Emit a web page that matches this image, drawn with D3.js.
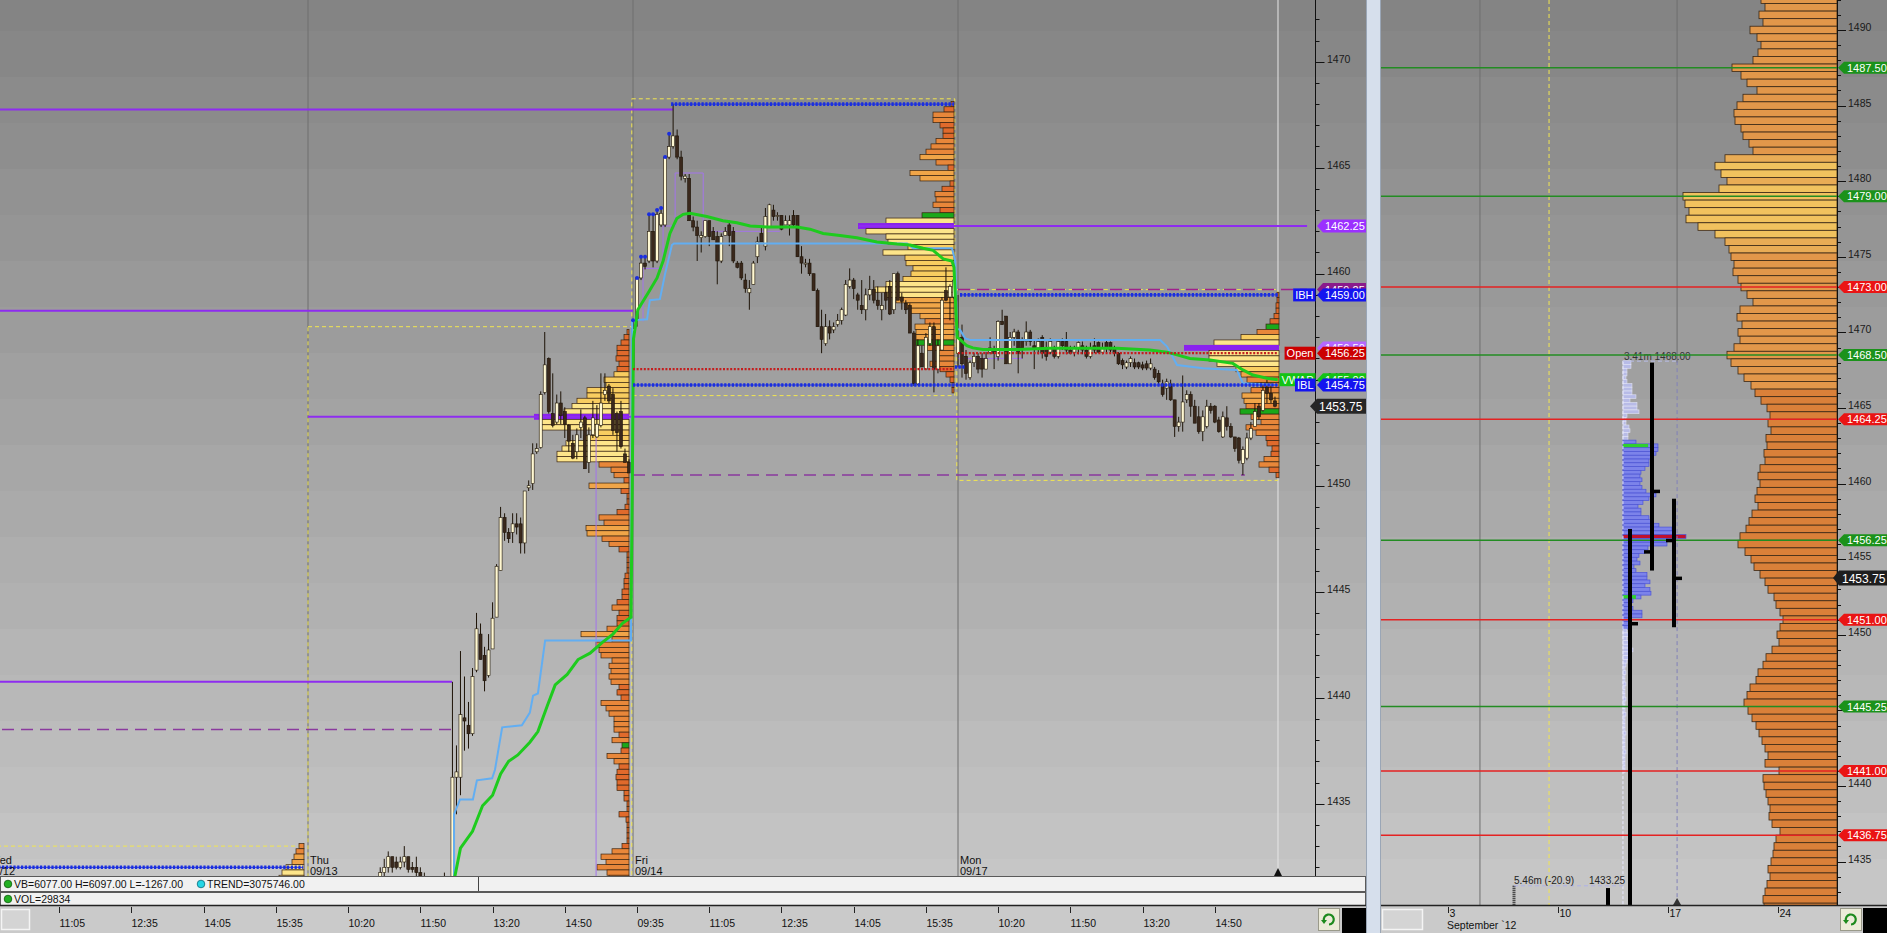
<!DOCTYPE html>
<html><head><meta charset="utf-8">
<script src="https://cdn.jsdelivr.net/npm/d3@7"></script>
<style>
html,body{margin:0;padding:0;background:#d6dfec;overflow:hidden}
svg{display:block;font-family:"Liberation Sans",Arial,sans-serif}
</style></head><body>
<svg id="chart" width="1887" height="933"></svg>
<script>
// ================= DATA =================
const sessionDays  = ["Wed","Thu","Fri","Mon"];
const sessionDates = ["09/12","09/13","09/14","09/17"];
const barsPerSession = 81;
const timeTickBars   = [19,37,55,73,91,109,127,145,163,181,199,217,235,253,271,289,307];
const timeTickLabels = ["11:05","12:35","14:05","15:35","10:20","11:50","13:20","14:50","09:35","11:05","12:35","14:05","15:35","10:20","11:50","13:20","14:50"];
const lastBar = 322.75;

const thuStart = 16;
const thuBars = [
[1430.5,1431.25,1430.0,1431.0],[1431.0,1431.5,1430.5,1431.25],[1431.25,1432.0,1431.0,1431.75],[1431.75,1432.4,1431.25,1432.0],
[1432.0,1432.75,1431.75,1432.5],[1432.5,1432.5,1431.75,1432.0],[1432.25,1432.5,1431.9,1432.0],[1432.0,1432.5,1431.9,1432.25],
[1432.25,1433.0,1432.0,1432.5],[1432.5,1432.5,1431.75,1431.9],[1432.0,1432.25,1431.75,1431.9],[1432.0,1432.5,1431.5,1431.75],
[1431.75,1432.0,1431.25,1431.5],[1431.5,1431.75,1430.75,1431.0],[1431.0,1431.25,1430.5,1430.75],[1430.75,1431.0,1430.25,1430.5],
[1430.5,1430.75,1430.0,1430.5],[1430.5,1431.0,1430.25,1430.75],[1430.75,1431.75,1430.5,1431.0],[1431.0,1431.5,1430.5,1431.0],
[1431.0,1440.75,1429.5,1436.25],[1436.25,1437.75,1434.5,1436.5],[1436.25,1442.2,1435.4,1439.2],[1439.05,1441.0,1437.5,1438.9],
[1438.7,1439.8,1437.6,1438.3],[1438.3,1441.4,1438.2,1441.0],[1441.3,1444.0,1441.2,1443.25],[1443.0,1443.5,1441.8,1441.8],
[1442.0,1442.4,1440.3,1440.8],[1441.05,1443.0,1440.95,1442.25],[1442.3,1444.5,1442.3,1443.75],[1443.8,1446.3,1443.8,1446.2],
[1446.0,1449.0,1446.0,1448.5],[1448.5,1448.7,1447.4,1447.8],[1447.8,1448.0,1447.3,1447.5],[1447.8,1448.7,1447.3,1448.2],
[1448.2,1448.7,1447.7,1448.05],[1448.2,1448.5,1446.8,1447.3],[1447.3,1449.75,1446.8,1449.75],[1449.9,1450.25,1449.75,1450.0],
[1450.1,1452.0,1449.8,1451.5],[1451.6,1452.0,1451.5,1451.75],[1451.8,1454.45,1451.75,1454.3],[1454.4,1457.25,1454.3,1455.7],
[1456.0,1456.05,1453.4,1453.5],[1453.4,1455.3,1452.75,1452.85],[1453.0,1454.3,1452.9,1453.9],[1453.9,1454.45,1452.9,1453.3],
[1453.5,1453.7,1452.25,1452.9],[1452.85,1452.9,1451.6,1452.1],[1452.0,1452.4,1451.25,1451.3],[1451.6,1452.7,1451.25,1452.4],
[1452.75,1453.6,1452.25,1453.0],[1453.2,1453.3,1450.8,1450.8],[1451.1,1452.75,1450.6,1452.4],[1452.4,1454.0,1452.25,1453.2],
[1452.3,1453.8,1452.25,1452.9],[1452.85,1455.3,1452.75,1453.9],[1454.3,1455.3,1454.0,1454.5],[1454.7,1454.8,1453.9,1454.0],
[1454.3,1454.6,1452.4,1452.6],[1453.4,1453.5,1451.6,1452.5],[1453.5,1454.0,1451.75,1451.85],[1451.5,1451.75,1451.1,1451.1],
[1451.1,1451.25,1450.6,1450.6]];

const friBars = [
[1455.5,1457.8,1455.4,1457.4],[1457.8,1459.8,1457.5,1459.8],[1459.8,1460.8,1459.7,1460.5],[1460.5,1460.8,1460.2,1460.35],
[1460.6,1462.8,1460.5,1462.0],[1462.0,1462.8,1460.3,1460.6],[1460.6,1463.0,1460.5,1462.8],[1462.3,1463.1,1462.2,1462.85],
[1462.3,1465.5,1462.2,1465.5],[1465.5,1466.6,1465.4,1466.0],[1466.0,1468.0,1465.9,1466.5],[1466.5,1466.8,1465.4,1465.5],
[1465.5,1465.8,1464.4,1464.6],[1464.5,1464.7,1464.3,1464.6],[1464.5,1464.7,1462.5,1462.5],[1462.5,1462.7,1462.0,1462.2],
[1462.2,1462.5,1460.6,1461.8],[1461.7,1462.0,1461.0,1461.8],[1461.75,1462.5,1461.7,1462.5],[1462.5,1462.5,1461.3,1461.75],
[1462.0,1462.2,1461.6,1461.6],[1461.75,1462.0,1459.5,1460.6],[1460.6,1461.9,1460.5,1461.75],[1461.8,1462.2,1461.8,1462.0],
[1462.3,1462.5,1461.3,1461.8],[1462.0,1462.2,1460.5,1460.6],[1460.5,1460.6,1460.25,1460.3],[1460.5,1460.6,1459.7,1459.8],
[1459.7,1460.0,1459.1,1459.3],[1459.1,1459.7,1458.3,1459.3],[1459.5,1460.6,1459.5,1460.5],[1460.8,1461.75,1460.5,1461.5],
[1461.9,1462.2,1461.5,1461.5],[1461.3,1463.1,1461.1,1462.7],[1462.2,1463.3,1462.2,1463.25],[1463.0,1463.25,1462.5,1462.7],
[1462.7,1462.9,1462.5,1462.75],[1462.75,1462.75,1462.05,1462.1],[1462.3,1462.75,1462.3,1462.5],[1462.3,1462.75,1461.8,1462.5],
[1462.75,1463.0,1462.2,1462.3],[1462.75,1462.75,1460.8,1460.8],[1460.8,1461.3,1460.0,1460.5],[1460.45,1460.7,1460.3,1460.5],
[1460.5,1460.7,1459.9,1460.0],[1460.0,1460.0,1459.2,1459.2],[1459.2,1459.3,1457.5,1457.5],[1457.5,1458.3,1456.25,1456.9],
[1456.7,1458.1,1456.6,1457.5],[1457.5,1457.8,1456.9,1457.2],[1457.35,1457.7,1457.2,1457.5],[1457.6,1458.1,1457.5,1457.8],
[1457.8,1458.4,1457.6,1458.3],[1458.05,1459.7,1458.0,1459.5],[1459.4,1460.25,1459.3,1459.7],[1459.7,1459.8,1458.8,1459.3],
[1459.0,1459.1,1458.3,1458.75],[1458.5,1459.7,1458.1,1458.3],[1458.3,1459.3,1457.8,1459.0],[1459.0,1459.9,1458.75,1459.25],
[1459.25,1459.7,1458.6,1458.75],[1458.75,1459.4,1458.3,1458.5],[1458.3,1459.1,1457.8,1458.5],[1459.1,1459.4,1458.3,1458.75],
[1459.4,1459.7,1458.05,1458.1],[1458.3,1460.0,1458.1,1460.0],[1460.0,1460.1,1458.75,1458.75],[1458.9,1459.1,1458.3,1458.7],
[1458.6,1458.75,1458.1,1458.3],[1458.5,1458.6,1457.2,1457.2],[1457.2,1457.3,1454.7,1454.8],[1454.8,1456.9,1454.75,1456.6],
[1456.25,1456.6,1455.6,1455.6],[1455.5,1457.2,1455.5,1457.0],[1456.7,1457.7,1456.6,1457.5],[1457.5,1457.7,1454.4,1455.5],
[1455.5,1456.9,1455.3,1456.6],[1456.4,1458.9,1456.4,1458.75],[1459.2,1460.3,1458.7,1458.75],[1458.9,1459.5,1457.8,1459.4],
[1458.9,1460.0,1458.8,1459.7]];

const monBars = [
[1456.25,1459.0,1455.6,1457.0],[1457.0,1457.6,1455.1,1455.75],[1456.1,1456.4,1455.0,1455.3],[1455.1,1455.9,1455.0,1455.8],
[1455.8,1456.25,1455.6,1456.1],[1456.1,1456.25,1455.3,1455.5],[1456.0,1456.25,1455.1,1455.5],[1455.5,1456.3,1455.5,1456.0],
[1456.3,1457.0,1456.2,1456.5],[1456.4,1456.6,1455.5,1456.25],[1456.1,1457.8,1455.9,1457.75],[1457.75,1458.3,1457.6,1457.6],
[1458.0,1458.0,1455.75,1455.75],[1455.75,1457.25,1455.75,1457.0],[1457.0,1457.4,1456.6,1457.25],[1457.25,1457.35,1455.3,1456.25],
[1456.9,1457.0,1456.0,1456.5],[1456.8,1457.75,1456.6,1457.25],[1457.25,1457.35,1456.6,1456.8],[1456.6,1456.9,1455.5,1456.5],
[1456.5,1456.95,1456.2,1456.8],[1457.0,1457.1,1456.0,1456.25],[1456.5,1456.8,1455.9,1456.1],[1456.3,1456.95,1456.2,1456.8],
[1456.5,1456.6,1456.0,1456.1],[1456.1,1456.9,1456.0,1456.8],[1456.8,1456.95,1456.4,1456.6],[1456.8,1457.25,1456.2,1456.4],
[1456.4,1456.6,1456.2,1456.25],[1456.3,1456.6,1456.1,1456.5],[1456.5,1456.8,1456.2,1456.75],[1456.6,1456.8,1456.2,1456.4],
[1456.4,1456.6,1456.0,1456.1],[1456.1,1456.75,1456.0,1456.5],[1456.6,1456.95,1456.25,1456.4],[1456.75,1456.8,1456.25,1456.3],
[1456.3,1456.75,1456.2,1456.5],[1456.75,1456.9,1456.3,1456.5],[1456.75,1456.8,1456.25,1456.4],[1456.5,1456.6,1456.1,1456.25],
[1456.25,1456.3,1455.7,1455.75],[1455.9,1456.0,1455.5,1455.7],[1455.6,1455.9,1455.5,1455.8],[1455.8,1456.1,1455.6,1456.0],
[1455.8,1456.0,1455.5,1455.6],[1455.8,1455.85,1455.5,1455.6],[1455.7,1455.85,1455.45,1455.55],[1455.75,1455.9,1455.45,1455.55],
[1455.55,1456.0,1455.45,1455.75],[1455.5,1455.6,1455.0,1455.1],[1455.3,1455.45,1454.75,1454.9],[1454.8,1455.0,1454.2,1454.3],
[1454.6,1455.05,1454.05,1454.9],[1454.8,1455.0,1454.0,1454.05],[1454.05,1454.05,1452.3,1452.8],[1452.8,1453.25,1452.55,1453.0],
[1453.0,1455.2,1452.55,1453.95],[1454.05,1454.5,1453.9,1454.3],[1454.3,1454.45,1453.25,1453.75],[1453.75,1454.05,1452.95,1452.95],
[1453.25,1453.75,1452.45,1452.55],[1452.55,1453.55,1452.1,1453.25],[1452.8,1454.05,1452.7,1453.75],[1453.75,1453.9,1453.4,1453.55],
[1453.75,1453.8,1452.95,1453.0],[1453.1,1453.25,1452.5,1452.55],[1452.3,1453.5,1452.25,1453.25],[1453.2,1453.75,1452.6,1452.8],
[1452.8,1452.95,1452.25,1452.3],[1452.3,1452.3,1451.6,1451.75],[1452.25,1452.3,1451.05,1451.2],[1451.05,1451.85,1450.5,1451.7],
[1451.3,1452.5,1451.2,1452.25],[1452.25,1453.0,1452.15,1452.7],[1452.8,1453.9,1452.8,1453.5],[1453.75,1453.9,1453.1,1453.25],
[1453.55,1454.75,1453.5,1454.5],[1454.65,1455.0,1453.9,1454.35],[1454.35,1454.85,1453.9,1454.05],[1454.0,1454.2,1453.7,1453.75]];

const friNewHighs = [[0,1457.8],[1,1459.8],[2,1460.8],[3,1460.8],[4,1462.8],[5,1462.8],[6,1463.0],[7,1463.1],[8,1465.5],[9,1466.6]];

const vwapLine = [[117,1431.0],[119,1432.9],[122,1433.7],[124.5,1434.9],[127,1435.4],[129,1436.4],[131,1437.0],[133.3,1437.3],[136.3,1437.9],[138.3,1438.4],[140.6,1439.6],[142.6,1440.6],[145.6,1441.1],[148.3,1441.8],[151.3,1442.1],[154.3,1442.6],[157,1443.0],[159.3,1443.5],[161.5,1443.8],[161.8,1449.5],[162.1,1456.9],[163.2,1458.3],[165.8,1459.1],[168,1459.8],[169.5,1460.6],[171.2,1461.9],[172.9,1462.6],[174.5,1462.8],[176.2,1462.85],[180.4,1462.7],[184.4,1462.5],[187.9,1462.4],[191.2,1462.25],[195.4,1462.2],[199.4,1462.2],[202.9,1462.2],[206.1,1462.1],[209.4,1461.9],[213.6,1461.8],[217.8,1461.7],[222.8,1461.5],[227.8,1461.4],[231,1461.35],[234.3,1461.2],[236.8,1461.1],[239.3,1460.7],[241.5,1460.6],[242,1460.3],[242.8,1457.0],[243.5,1456.9],[245.2,1456.6],[246.7,1456.5],[249.2,1456.43],[253.5,1456.43],[257.7,1456.43],[265.9,1456.48],[274.2,1456.48],[282.6,1456.48],[290.8,1456.4],[295.1,1456.3],[297.6,1456.17],[300.8,1456.0],[305.8,1455.93],[311.5,1455.77],[314,1455.46],[316.5,1455.22],[320,1455.07],[322.7,1455.0]];
const blueLine = [[117.4,1431.0],[117.4,1434.5],[118.9,1435.2],[122.1,1435.2],[123.1,1436.1],[126.9,1436.2],[127.6,1436.6],[129.4,1438.6],[134.3,1438.7],[136.3,1439.3],[137.1,1440.1],[138.3,1440.2],[140.1,1442.7],[161.5,1442.7],[161.8,1457.8],[165.5,1457.85],[166.2,1458.75],[168.7,1458.8],[170,1460.0],[171.7,1461.35],[172.2,1461.43],[230.3,1461.43],[231.8,1461.2],[241.5,1461.2],[242.3,1460.6],[242.8,1457.4],[243.5,1457.35],[244.8,1456.95],[246,1456.87],[293.4,1456.87],[295.1,1456.56],[297.6,1455.69],[304.1,1455.54],[312.5,1455.46],[314,1454.83],[322.7,1454.75]];

const wedProfile = {top:1433.0, endBar:81, poc:null, vaHigh:1432.0, vaLow:1431.0, green:[],
  vols:[5,8,10,12,18,22,25]};
const thuProfile = {top:1457.25, endBar:162, poc:1453.25, vaHigh:1455.25, vaLow:1451.25, green:[1437.75],
  vols:[2,5,8,12,12,13,10,12,15,25,23,42,42,52,57,65,95,88,88,37,45,63,67,72,72,30,18,15,5,40,8,2,2,4,12,30,25,43,42,27,20,10,2,2,2,2,4,5,5,7,7,12,17,10,12,12,22,48,17,33,30,28,17,20,18,20,18,10,12,8,28,23,20,15,15,15,10,17,7,8,22,15,10,12,13,12,12,5,5,2,2,10,3,2,2,2,2,7,17,28,23,32,22,20]};
const friProfile = {top:1468.0, endBar:243, poc:1462.25, vaHigh:1462.5, vaLow:1459.0, green:[1462.75,1456.75],
  vols:[3,10,21,21,14,11,11,18,23,28,34,18,6,44,34,4,12,19,18,21,14,32,68,96,88,68,66,46,71,49,48,41,43,51,68,79,68,58,48,44,34,29,39,38,38,38,28,16,16,24,14,8,4,2,2]};
const monProfile = {top:1459.0, endBar:324, poc:1456.5, vaHigh:1457.0, vaLow:1455.5, green:[1457.5,1453.5],
  vols:[2,2,3,3,5,9,13,22,38,65,95,70,70,62,43,38,32,18,28,37,35,33,39,28,18,33,23,13,12,7,8,15,20,10,3]};

const purpleLevels = [[1467.75,0,172],[1462.25,218.3,330],[1458.25,0,162],[1453.25,81,296.8],[1440.75,0,116.9]];
const purpleDashLevels = [[1438.5,0,116.9],[1450.5,162,314.5]];
const magentaDashLevels = [[1459.25,243,330]];
const blueDotLevels = [[1468.0,171.5,242],[1454.75,162,322.7],[1459.0,243.5,322.7],[1432.0,0,79.8],[1455.6,242.2,244.6]];
const redDotLevels = [[1455.5,162,242],[1456.25,243,322.7]];
const sessionBoxes = [[0,79.8,1433.0,1420],[81,161.7,1457.5,1420],[161.7,242.2,1468.25,1454.25],[242.7,322.7,1459.25,1450.25]];
const devLines = [
  [[152.8,1452.25],[152.8,1428]],
  [[164.5,1457.75],[164.5,1460.25],[169.5,1460.25],[169.5,1462.25],[172.5,1462.25],[172.5,1464.75],[179.5,1464.75],[179.5,1462.0],[198.6,1462.0]],
  [[243,1456.0],[259,1456.0]]];

const leftTags = [
  {p:1462.25,label:"1462.25",color:"#9b30ff"},
  {p:1459.25,label:"1459.25",color:"#8b1a8b"},
  {p:1459.00,label:"1459.00",color:"#1414f0",pre:"IBH"},
  {p:1456.50,label:"1456.50",color:"#b468ff"},
  {p:1456.25,label:"1456.25",color:"#cc0000",pre:"Open"},
  {p:1455.00,label:"1455.00",color:"#14c414",pre:"VWAP"},
  {p:1454.75,label:"1454.75",color:"#1414f0",pre:"IBL"},
  {p:1453.75,label:"1453.75",color:"#262626",current:true}];

const tradingDays = ["2012-08-27","2012-08-28","2012-08-29","2012-08-30","2012-08-31","2012-09-03","2012-09-04","2012-09-05","2012-09-06","2012-09-07","2012-09-10","2012-09-11","2012-09-12","2012-09-13","2012-09-14","2012-09-17","2012-09-18","2012-09-19","2012-09-20","2012-09-21","2012-09-24","2012-09-25","2012-09-26","2012-09-27","2012-09-28"];
const dayTickDates  = ["2012-09-03","2012-09-10","2012-09-17","2012-09-24"];
const dayTickLabels = ["3","10","17","24"];
const monthLabel = "September `12";
const dailyDates = ["2012-09-12","2012-09-13","2012-09-14","2012-09-17"];
const dailyOHLC  = [[1430.5,1433.25,1426.0,1430.0],[1430.0,1457.0,1424.5,1450.75],[1455.5,1468.0,1454.25,1459.5],[1456.25,1459.0,1450.5,1453.75]];
const compTop = 1492.0;
const compVols = [76,72,78,74,87,80,76,79,84,105,96,90,80,94,100,103,102,96,94,88,84,112,122,116,110,118,154,152,148,151,139,122,112,108,106,103,104,99,96,90,84,97,100,95,99,97,103,110,106,99,93,86,82,76,70,67,69,66,71,70,73,72,77,79,77,80,82,79,85,88,91,97,99,92,86,83,77,72,69,63,61,57,54,57,60,58,65,71,74,79,81,87,90,93,89,85,81,78,75,72,69,72,58,74,73,71,69,67,68,65,57,61,63,64,66,69,67,70,72,74,73];
const compVaHigh = 1481.5, compVaLow = 1475.5;
const weekProfTop = 1468.0, weekPoc = 1456.5, weekVaHigh = 1462.75, weekVaLow = 1450.5, weekGreen = [1462.5,1452.5];
const weekVols = [8,8,4,4,3,4,9,9,9,13,7,14,14,16,4,3,3,6,7,5,5,13,35,35,33,28,26,26,22,18,17,19,17,19,23,33,26,20,15,18,18,26,28,36,49,50,63,44,44,25,22,16,14,17,11,13,24,24,27,22,27,28,18,10,8,10,19,19,8,7,6,4,8,4,6,8,10,6,8,4,3,2,3,2,2,3,2,2,2,3,2,2,2,3,2,2,2,2,3,2,2,2,2,3,2,2,2,2,2];
const greenLevels = [1487.50,1479.00,1468.50,1456.25,1445.25];
const redLevels   = [1473.00,1464.25,1451.00,1441.00,1436.75];
const lastPrice = 1453.75;
const statusRow1a = "VB=6077.00 H=6097.00 L=-1267.00";
const statusRow1b = "TREND=3075746.00";
const statusRow2  = "VOL=29834";

// ================= SCALES =================
const svg = d3.select("#chart");
const LX1 = 1315.5, LY1 = 876, RX0 = 1381, RX1 = 1837, RY1 = 905;
const xL = d3.scaleLinear().domain([0, 4*barsPerSession]).range([-17, 1283]);
const yL = d3.scaleLinear().domain([1470, 1431]).range([61.7, 61.7 + 39*21.2]);
const yR = d3.scaleLinear().domain([1490, 1430]).range([30, 30 + 60*15.12]);
const xR = d3.scaleBand().domain(tradingDays).range([1333, 1883]).padding(0);
const xRc = d => xR(d) + xR.bandwidth()/2;
const profW = d3.scaleLinear().domain([0, 100]).range([0, 100]);
const line = (xs, ys) => d3.line().x(d => xs(d[0])).y(d => ys(d[1]));

const defs = svg.append("defs");
defs.append("clipPath").attr("id","clipL").append("rect").attr("x",0).attr("y",0).attr("width",LX1).attr("height",LY1);
defs.append("clipPath").attr("id","clipR").append("rect").attr("x",RX0).attr("y",0).attr("width",RX1-RX0).attr("height",RY1);

// ================= BACKGROUND =================
svg.append("rect").attr("width",1887).attr("height",933).attr("fill","#d6dfec");
const bandCol = d3.interpolateRgb("#838383","#c8c8c8");
function bands(x0, x1, y1){
  for (let yy = -15; yy < y1; yy += 46){
    const a = Math.max(0, yy), b = Math.min(y1, yy + 46);
    svg.append("rect").attr("x",x0).attr("y",a).attr("width",x1-x0).attr("height",b-a)
      .attr("fill", bandCol(Math.min(1, (yy+23)/905)));
  }
}
bands(0, 1366, LY1);
bands(1380, 1887, RY1);
svg.append("line").attr("x1",1366.5).attr("x2",1366.5).attr("y1",0).attr("y2",933).attr("stroke","#9aa6b6");
svg.append("line").attr("x1",1380.5).attr("x2",1380.5).attr("y1",0).attr("y2",933).attr("stroke","#9aa6b6");

// ================= LEFT (INTRADAY) PANEL =================
const gL = svg.append("g").attr("clip-path","url(#clipL)");

[1,2,3].forEach(s => gL.append("line").attr("x1",xL(s*barsPerSession)).attr("x2",xL(s*barsPerSession))
  .attr("y1",0).attr("y2",LY1).attr("stroke","#6e6e6e").attr("stroke-width",1));
gL.append("line").attr("x1",xL(lastBar)).attr("x2",xL(lastBar)).attr("y1",0).attr("y2",LY1).attr("stroke","#e6e6e6").attr("stroke-width",1);

sessionBoxes.forEach(b => {
  gL.append("rect").attr("x",xL(b[0])).attr("y",yL(b[2])).attr("width",xL(b[1])-xL(b[0])).attr("height",yL(b[3])-yL(b[2]))
    .attr("fill","none").attr("stroke","#f2e650").attr("stroke-width",1).attr("stroke-dasharray","4,3");
});

function profileColor(prof, p, v, max){
  if (prof.green.includes(p)) return "#1aa81a";
  const r = v / max;
  if (p <= prof.vaHigh && p >= prof.vaLow) return r >= 0.55 ? "#fde58a" : "#f8cd60";
  if (r >= 0.35) return "#f0a548";
  if (r >= 0.15) return "#e8873a";
  return "#e06a2c";
}
function drawProfile(prof){
  const max = d3.max(prof.vols), step = 0.25, xr = xL(prof.endBar) - 4;
  const g = gL.append("g");
  prof.vols.forEach((v, i) => {
    const p = prof.top - i*step, w = profW(v);
    const y0 = yL(p + step/2), y1 = yL(p - step/2);
    if (p === prof.poc){
      g.append("rect").attr("x",xr-w).attr("y",y0-0.3).attr("width",w).attr("height",y1-y0+0.6).attr("fill","#8a22ee");
    } else {
      g.append("rect").attr("x",xr-w).attr("y",y0).attr("width",w).attr("height",y1-y0)
        .attr("fill",profileColor(prof,p,v,max)).attr("stroke","#3a2410").attr("stroke-width",0.7);
    }
  });
}
[wedProfile, thuProfile, friProfile, monProfile].forEach(drawProfile);

purpleLevels.forEach(l => gL.append("line").attr("x1",xL(l[1])).attr("x2",xL(l[2])).attr("y1",yL(l[0])).attr("y2",yL(l[0]))
  .attr("stroke","#8e2cf0").attr("stroke-width",2));
purpleDashLevels.forEach(l => gL.append("line").attr("x1",xL(l[1])).attr("x2",xL(l[2])).attr("y1",yL(l[0])).attr("y2",yL(l[0]))
  .attr("stroke","#8a3a9e").attr("stroke-width",1.5).attr("stroke-dasharray","12,7"));
magentaDashLevels.forEach(l => gL.append("line").attr("x1",xL(l[1])).attr("x2",xL(l[2])).attr("y1",yL(l[0])).attr("y2",yL(l[0]))
  .attr("stroke","#a0208c").attr("stroke-width",1.5).attr("stroke-dasharray","12,7"));
devLines.forEach(pts => gL.append("path").attr("d",line(xL,yL)(pts)).attr("fill","none").attr("stroke","#a374ea").attr("stroke-width",1));

function drawCandles(bars, start){
  const g = gL.append("g");
  bars.forEach((d, i) => {
    const cx = xL(start + i), [o,h,l,c] = d;
    g.append("line").attr("x1",cx).attr("x2",cx).attr("y1",yL(h)).attr("y2",yL(l)).attr("stroke","#1e1408").attr("stroke-width",1);
    const top = yL(Math.max(o,c)), bot = yL(Math.min(o,c));
    g.append("rect").attr("x",cx-1.5).attr("y",top).attr("width",3).attr("height",Math.max(1,bot-top))
      .attr("fill", c >= o ? "#fff8d2" : "#3a281c").attr("stroke","#1e1408").attr("stroke-width",0.6);
  });
}
drawCandles(thuBars, barsPerSession + thuStart);
drawCandles(friBars, 2*barsPerSession);
drawCandles(monBars, 3*barsPerSession);

gL.append("path").attr("d",line(xL,yL)(blueLine)).attr("fill","none").attr("stroke","#62aef2").attr("stroke-width",2);
gL.append("path").attr("d",line(xL,yL)(vwapLine)).attr("fill","none").attr("stroke","#1ecb1e").attr("stroke-width",3);

redDotLevels.forEach(l => gL.append("line").attr("x1",xL(l[1])).attr("x2",xL(l[2])).attr("y1",yL(l[0])).attr("y2",yL(l[0]))
  .attr("stroke","#c41e1e").attr("stroke-width",2.2).attr("stroke-dasharray","2,1.6"));
blueDotLevels.forEach(l => {
  gL.append("line").attr("x1",xL(l[1])).attr("x2",xL(l[2])).attr("y1",yL(l[0])).attr("y2",yL(l[0]))
    .attr("stroke","#1a2ee0").attr("stroke-width",1);
  gL.append("line").attr("x1",xL(l[1])).attr("x2",xL(l[2])).attr("y1",yL(l[0])).attr("y2",yL(l[0]))
    .attr("stroke","#1a2ee0").attr("stroke-width",3.6).attr("stroke-dasharray","2.2,1.6");
});
friNewHighs.forEach(d => gL.append("circle").attr("cx",xL(2*barsPerSession + d[0])).attr("cy",yL(d[1])).attr("r",2).attr("fill","#1a2ee0"));

// session labels (first one is partly scrolled off the left edge)
sessionDays.forEach((d, s) => {
  const x = Math.max(xL(s*barsPerSession) + 2, -10.5);
  gL.append("text").attr("x",x).attr("y",864).attr("font-size",11).attr("fill","#111").text(d);
  gL.append("text").attr("x",s === 0 ? x - 2 : x).attr("y",875).attr("font-size",11).attr("fill","#111").text(sessionDates[s]);
});
gL.append("path").attr("d",`M${xL(lastBar)-4},876 L${xL(lastBar)},868 L${xL(lastBar)+4},876 Z`).attr("fill","#111");

svg.append("line").attr("x1",LX1).attr("x2",LX1).attr("y1",0).attr("y2",LY1).attr("stroke","#111").attr("stroke-width",1);
d3.range(1431, 1473).forEach(v => {
  const y = Math.round(yL(v)) + 0.5, major = v % 5 === 0;
  svg.append("line").attr("x1",LX1).attr("x2",LX1 + (major ? 9 : 4)).attr("y1",y).attr("y2",y).attr("stroke","#111");
  if (major) svg.append("text").attr("x",1327).attr("y",y).attr("font-size",10.5).attr("fill","#1a1a1a").text(v);
});

function tagPath(x0, yc, x1, h, a){
  return `M${x0},${yc} L${x0+a},${yc-h/2} L${x1},${yc-h/2} L${x1},${yc+h/2} L${x0+a},${yc+h/2} Z`;
}
leftTags.forEach(t => {
  const yc = yL(t.p);
  if (t.pre){
    const txt = svg.append("text").attr("font-size",11).attr("fill","#fff").text(t.pre);
    const w = txt.node().getComputedTextLength() + 4;
    svg.insert("rect", () => txt.node()).attr("x",LX1 - w).attr("y",yc-6.5).attr("width",w).attr("height",13).attr("fill",t.color);
    txt.attr("x",LX1 - w + 2).attr("y",yc + 4);
  }
  if (t.current){
    svg.append("path").attr("d",tagPath(1310, yc, 1366, 15, 7)).attr("fill",t.color);
    svg.append("text").attr("x",1319).attr("y",yc+4.5).attr("font-size",12).attr("fill","#fff").text(t.label);
  } else {
    svg.append("path").attr("d",tagPath(1317, yc, 1366, 13, 6)).attr("fill",t.color);
    svg.append("text").attr("x",1325).attr("y",yc+4).attr("font-size",11).attr("fill","#fff").text(t.label);
  }
});

function statusRow(y, h){
  svg.append("rect").attr("x",0.5).attr("y",y+0.5).attr("width",1365).attr("height",h).attr("fill","#f1f1f1").attr("stroke","#5a5a5a");
}
statusRow(876, 15); statusRow(892, 13);
svg.append("line").attr("x1",478.5).attr("x2",478.5).attr("y1",877).attr("y2",891).attr("stroke","#444");
svg.append("circle").attr("cx",8).attr("cy",884).attr("r",3.8).attr("fill","#22b022").attr("stroke","#0d5a0d").attr("stroke-width",0.8);
svg.append("text").attr("x",14).attr("y",888).attr("font-size",10.5).attr("fill","#111").text(statusRow1a);
svg.append("circle").attr("cx",201).attr("cy",884).attr("r",3.8).attr("fill","#26d6e6").attr("stroke","#0b6a78").attr("stroke-width",0.8);
svg.append("text").attr("x",207).attr("y",888).attr("font-size",10.5).attr("fill","#111").text(statusRow1b);
svg.append("circle").attr("cx",8).attr("cy",899).attr("r",3.8).attr("fill","#22b022").attr("stroke","#0d5a0d").attr("stroke-width",0.8);
svg.append("text").attr("x",14).attr("y",903).attr("font-size",10.5).attr("fill","#111").text(statusRow2);

svg.append("rect").attr("x",0).attr("y",906).attr("width",1366).attr("height",27).attr("fill","#cacaca");
svg.append("line").attr("x1",0).attr("x2",1366).attr("y1",905.5).attr("y2",905.5).attr("stroke","#222").attr("stroke-width",1.5);
svg.append("rect").attr("x",1.5).attr("y",909.5).attr("width",28).attr("height",20).attr("fill","#d4d4d4").attr("stroke","#f4f4f4").attr("stroke-width",1.5);
timeTickBars.forEach((b, i) => {
  const x = Math.round(xL(b)) + 0.5;
  svg.append("line").attr("x1",x).attr("x2",x).attr("y1",907).attr("y2",913).attr("stroke","#222");
  svg.append("text").attr("x",x).attr("y",927).attr("font-size",10.5).attr("fill","#111").text(timeTickLabels[i]);
});
function refreshIcon(x, y){
  svg.append("rect").attr("x",x+0.5).attr("y",y+0.5).attr("width",21).attr("height",22).attr("fill","#ecebd8").attr("stroke","#9a9a8a");
  svg.append("path").attr("d",`M${x+6},${y+13} A5,5 0 1 1 ${x+11},${y+16.5}`).attr("fill","none").attr("stroke","#1d8a1d").attr("stroke-width",2.2);
  svg.append("path").attr("d",`M${x+3},${y+12} L${x+9},${y+12} L${x+6},${y+16} Z`).attr("fill","#1d8a1d");
}
refreshIcon(1318, 908);
svg.append("rect").attr("x",1342).attr("y",908).attr("width",24).attr("height",25).attr("fill","#000");

// ================= RIGHT (DAILY) PANEL =================
const gR = svg.append("g").attr("clip-path","url(#clipR)");
const dayPos = (d, f) => xR(d) + f * xR.bandwidth();
gR.append("line").attr("x1",dayPos("2012-09-04",0.68)).attr("x2",dayPos("2012-09-04",0.68)).attr("y1",0).attr("y2",RY1).attr("stroke","#6e6e6e");
gR.append("line").attr("x1",dayPos("2012-09-17",0.64)).attr("x2",dayPos("2012-09-17",0.64)).attr("y1",0).attr("y2",yR(1468)).attr("stroke","#6e6e6e");
gR.append("line").attr("x1",dayPos("2012-09-07",0.82)).attr("x2",dayPos("2012-09-07",0.82)).attr("y1",0).attr("y2",RY1)
  .attr("stroke","#f2e650").attr("stroke-dasharray","4,3");

(function(){
  const step = 0.5, max = d3.max(compVols);
  compVols.forEach((v, i) => {
    const p = compTop - i*step, w = profW(v);
    const y0 = yR(p + step/2), y1 = yR(p - step/2);
    let fill = p > 1466 ? "#e2974a" : "#da8039";
    if (p <= compVaHigh && p >= compVaLow) fill = v/max > 0.75 ? "#f1c25e" : "#e9ac55";
    gR.append("rect").attr("x",RX1 - w).attr("y",y0).attr("width",w).attr("height",y1-y0)
      .attr("fill",fill).attr("stroke","#3b2816").attr("stroke-width",0.8);
  });
})();

(function(){
  const step = 0.25, x0 = dayPos("2012-09-13", 0.18), x1 = dayPos("2012-09-17", 0.64);
  weekVols.forEach((v, i) => {
    const p = weekProfTop - i*step, w = profW(v);
    const y0 = yR(p + step/2), y1 = yR(p - step/2);
    const inVa = p <= weekVaHigh && p >= weekVaLow;
    let fill = inVa ? "#7c83ea" : "#bcc0f4", stroke = inVa ? "#4c54d6" : "#e4e6fa";
    if (p === weekPoc){ fill = "#c0102e"; stroke = "#4c54d6"; }
    gR.append("rect").attr("x",x0).attr("y",y0).attr("width",w).attr("height",y1-y0)
      .attr("fill",fill).attr("stroke",stroke).attr("stroke-width",0.7).attr("opacity", inVa ? 1 : 0.85);
    if (weekGreen.includes(p)) gR.append("rect").attr("x",x0).attr("y",y0).attr("width",w*0.72).attr("height",y1-y0).attr("fill","#2ed02e");
  });
  gR.append("line").attr("x1",x0).attr("x2",x0).attr("y1",yR(1468.1)).attr("y2",RY1).attr("stroke","#e8eaff").attr("stroke-dasharray","3,2");
  gR.append("line").attr("x1",x0).attr("x2",x1).attr("y1",yR(1468.1)).attr("y2",yR(1468.1)).attr("stroke","#b8bce8").attr("stroke-dasharray","4,3");
  gR.append("line").attr("x1",x1).attr("x2",x1).attr("y1",yR(1468.1)).attr("y2",RY1).attr("stroke","#8080b8").attr("stroke-dasharray","4,3");
  gR.append("text").attr("x",x0+1).attr("y",yR(1468.0)-3).attr("font-size",10).attr("fill","#333").text("3.41m  1468.00");
  gR.append("path").attr("d",`M${x1-4},${RY1} L${x1},${RY1-7} L${x1+4},${RY1} Z`).attr("fill","#333");
})();

greenLevels.forEach(p => gR.append("line").attr("x1",RX0).attr("x2",RX1).attr("y1",yR(p)).attr("y2",yR(p)).attr("stroke","#238c23").attr("stroke-width",1.5));
redLevels.forEach(p => gR.append("line").attr("x1",RX0).attr("x2",RX1).attr("y1",yR(p)).attr("y2",yR(p)).attr("stroke","#e42222").attr("stroke-width",1.5));

(function(){
  const xm = xR("2012-09-06") + 5;
  gR.append("line").attr("x1",xm).attr("x2",xm).attr("y1",yR(1433.4)).attr("y2",RY1).attr("stroke","#222").attr("stroke-width",3).attr("stroke-dasharray","1,1");
  gR.append("line").attr("x1",xm).attr("x2",dayPos("2012-09-13",0.18)).attr("y1",yR(1433.4)).attr("y2",yR(1433.4)).attr("stroke","#aeb2e8").attr("stroke-dasharray","4,3");
  gR.append("text").attr("x",xm).attr("y",yR(1433.4)-2).attr("font-size",10).attr("fill","#222").text("5.46m (-20.9)");
  gR.append("text").attr("x",xRc("2012-09-12")-19).attr("y",yR(1433.4)-2).attr("font-size",10).attr("fill","#222").text("1433.25");
})();

dailyDates.forEach((d, i) => {
  const [o,h,l,c] = dailyOHLC[i], x = xRc(d);
  gR.append("rect").attr("x",x-2).attr("y",yR(h)).attr("width",4).attr("height",yR(l)-yR(h)).attr("fill","#000");
  gR.append("rect").attr("x",x-8).attr("y",yR(o)-1.5).attr("width",7).attr("height",3.5).attr("fill","#000");
  gR.append("rect").attr("x",x+1).attr("y",yR(c)-1.5).attr("width",7).attr("height",3.5).attr("fill","#000");
});

svg.append("line").attr("x1",RX1+0.5).attr("x2",RX1+0.5).attr("y1",0).attr("y2",RY1).attr("stroke","#111");
d3.range(1431, 1493).forEach(v => {
  const y = Math.round(yR(v)) + 0.5, major = v % 5 === 0;
  svg.append("line").attr("x1",RX1).attr("x2",RX1 + (major ? 9 : 4)).attr("y1",y).attr("y2",y).attr("stroke","#111");
  if (major) svg.append("text").attr("x",1848).attr("y",y).attr("font-size",10.5).attr("fill","#1a1a1a").text(v);
});
greenLevels.forEach(p => {
  svg.append("path").attr("d",tagPath(1838, yR(p), 1887, 12, 6)).attr("fill","#1b921b");
  svg.append("text").attr("x",1847).attr("y",yR(p)+4).attr("font-size",11).attr("fill","#fff").text(p.toFixed(2));
});
redLevels.forEach(p => {
  svg.append("path").attr("d",tagPath(1838, yR(p), 1887, 12, 6)).attr("fill","#ea1414");
  svg.append("text").attr("x",1847).attr("y",yR(p)+4).attr("font-size",11).attr("fill","#fff").text(p.toFixed(2));
});
svg.append("path").attr("d",tagPath(1833, yR(lastPrice), 1887, 15, 6)).attr("fill","#1e1e1e");
svg.append("text").attr("x",1842).attr("y",yR(lastPrice)+4.5).attr("font-size",12).attr("fill","#fff").text(lastPrice.toFixed(2));

svg.append("rect").attr("x",1381).attr("y",906).attr("width",506).attr("height",27).attr("fill","#cacaca");
svg.append("line").attr("x1",1381).attr("x2",1887).attr("y1",905.5).attr("y2",905.5).attr("stroke","#222").attr("stroke-width",1.5);
svg.append("rect").attr("x",1382.5).attr("y",909.5).attr("width",40).attr("height",20).attr("fill","#d4d4d4").attr("stroke","#f4f4f4").attr("stroke-width",1.5);
dayTickDates.forEach((d, i) => {
  const x = Math.round(xRc(d) - 6.5) + 0.5;
  svg.append("line").attr("x1",x).attr("x2",x).attr("y1",907).attr("y2",913).attr("stroke","#222");
  svg.append("text").attr("x",x+1).attr("y",917).attr("font-size",10.5).attr("fill","#111").text(dayTickLabels[i]);
});
svg.append("text").attr("x",Math.round(xRc(dayTickDates[0]) - 6.5) - 1).attr("y",929).attr("font-size",10.5).attr("fill","#111").text(monthLabel);
refreshIcon(1840, 908);
svg.append("rect").attr("x",1863).attr("y",908).attr("width",24).attr("height",25).attr("fill","#000");
</script>
</body></html>
